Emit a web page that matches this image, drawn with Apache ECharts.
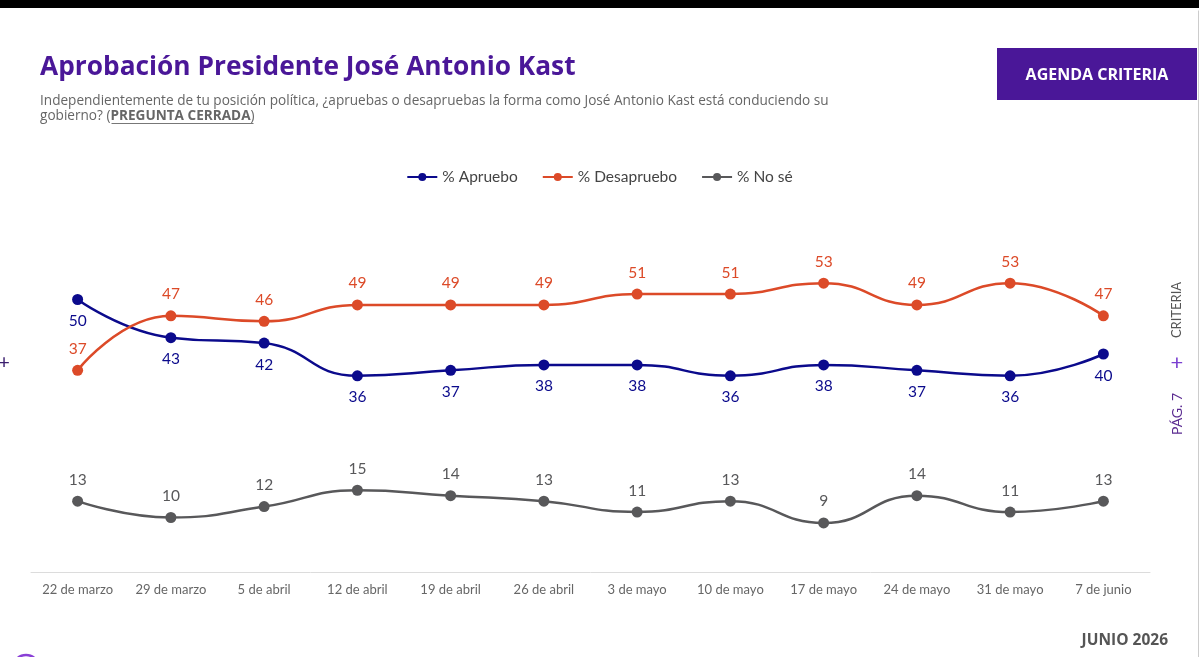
<!DOCTYPE html>
<html>
<head>
<meta charset="utf-8">
<script src="https://cdn.jsdelivr.net/npm/echarts@6/dist/echarts.min.js"></script>
<style>
html, body { margin: 0; padding: 0; background: #fff; }
#chart { width: 1199px; height: 657px; }
</style>
</head>
<body>
<div id="chart"></div>
<script>
const categories = ['22 de marzo', '29 de marzo', '5 de abril', '12 de abril', '19 de abril', '26 de abril',
    '3 de mayo', '10 de mayo', '17 de mayo', '24 de mayo', '31 de mayo', '7 de junio'];
const apruebo = [50, 43, 42, 36, 37, 38, 38, 36, 38, 37, 36, 40];
const desapruebo = [37, 47, 46, 49, 49, 49, 51, 51, 53, 49, 53, 47];
const noSe = [13, 10, 12, 15, 14, 13, 11, 13, 9, 14, 11, 13];

const chart = echarts.init(document.getElementById('chart'));
const font = 'Lato, "Open Sans", sans-serif';
const subFont = '"Open Sans", sans-serif';
const purple = '#4a1798';

function lineSeries(name, data, color, labelPos) {
    return {
        name: name,
        type: 'line',
        data: data,
        smooth: 0.5,
        symbol: 'circle',
        symbolSize: 11,
        lineStyle: { color: color, width: 2.5 },
        itemStyle: { color: color },
        label: {
            show: true,
            position: labelPos,
            distance: 8,
            color: color,
            fontSize: 15.5,
            fontFamily: font
        }
    };
}

option = {
    animation: false,
    backgroundColor: '#fff',
    title: {
        left: 40,
        top: 55,
        padding: 0,
        text: 'Aprobación Presidente José Antonio Kast',
        textStyle: { color: purple, fontSize: 26.3, fontWeight: 'bold', fontFamily: subFont },
        subtext: 'Independientemente de tu posición política, ¿apruebas o desapruebas la forma como José Antonio Kast está conduciendo su\ngobierno? ({b|PREGUNTA CERRADA})',
        subtextStyle: {
            color: '#666',
            fontSize: 13.6,
            lineHeight: 15,
            fontFamily: subFont,
            rich: {
                b: { color: '#666', fontSize: 13.6, lineHeight: 15, fontWeight: 'bold', fontFamily: subFont }
            }
        },
        itemGap: 13
    },
    legend: {
        top: 164,
        left: 'center',
        itemWidth: 30,
        itemHeight: 10,
        itemGap: 24,
        textStyle: { color: '#444', fontSize: 15.5, fontFamily: font },
        data: ['% Apruebo', '% Desapruebo', '% No sé']
    },
    grid: { left: 31, right: 49, top: 245, bottom: 85 },
    xAxis: {
        type: 'category',
        data: categories,
        axisLine: { lineStyle: { color: '#dcdcdc' } },
        axisTick: { lineStyle: { color: '#dcdcdc' }, length: 5 },
        axisLabel: { color: '#666', fontSize: 13, fontFamily: font, margin: 11 }
    },
    yAxis: {
        type: 'value',
        min: 0,
        max: 60,
        show: false
    },
    series: [
        lineSeries('% Apruebo', apruebo, '#0b0a8c', 'bottom'),
        lineSeries('% Desapruebo', desapruebo, '#dc4a28', 'top'),
        lineSeries('% No sé', noSe, '#58585a', 'top')
    ],
    graphic: [
        { type: 'rect', left: 0, top: 0, shape: { width: 1199, height: 8 }, style: { fill: '#000' } },
        { type: 'rect', left: 997, top: 48, shape: { width: 200, height: 52 }, style: { fill: purple } },
        { type: 'text', x: 1097, y: 75, style: { text: 'AGENDA CRITERIA', fill: '#fff', font: 'bold 16px ' + subFont, align: 'center', verticalAlign: 'middle' } },
        { type: 'line', left: 109, top: 121, shape: { x1: 0, y1: 0, x2: 142, y2: 0 }, style: { stroke: '#777', lineWidth: 1 } },
        { type: 'text', x: 1177, y: 310, rotation: Math.PI / 2, style: { text: 'CRITERIA', fill: '#555', font: '13px ' + font, align: 'center', verticalAlign: 'middle' } },
        { type: 'text', x: 1177, y: 363, style: { text: '+', fill: '#7a3fd0', font: '22px ' + font, align: 'center', verticalAlign: 'middle' } },
        { type: 'text', x: 1177, y: 414, rotation: Math.PI / 2, style: { text: 'PÁG. 7', fill: '#5a2a90', font: '14px ' + font, align: 'center', verticalAlign: 'middle' } },
        { type: 'text', x: 4, y: 363, style: { text: '+', fill: '#3a1d6e', font: '20px ' + font, align: 'center', verticalAlign: 'middle' } },
        { type: 'text', x: 1168, y: 641, style: { text: 'JUNIO 2026', fill: '#555', font: 'bold 15.5px ' + subFont, align: 'right', verticalAlign: 'middle' } },
        { type: 'line', left: 0, top: 655, shape: { x1: 0, y1: 0, x2: 1199, y2: 0 }, style: { stroke: '#bbb', lineWidth: 1 } },
        { type: 'line', left: 1196, top: 8, shape: { x1: 0, y1: 0, x2: 0, y2: 647 }, style: { stroke: '#ccc', lineWidth: 1 } },
        { type: 'circle', x: 26, y: 668, shape: { r: 13 }, style: { fill: 'none', stroke: '#8a3fd6', lineWidth: 2.5 } },
        { type: 'circle', x: 26, y: 668, shape: { r: 8 }, style: { fill: 'none', stroke: '#8a3fd6', lineWidth: 1.5 } }
    ]
};
chart.setOption(option);
</script>
</body>
</html>
